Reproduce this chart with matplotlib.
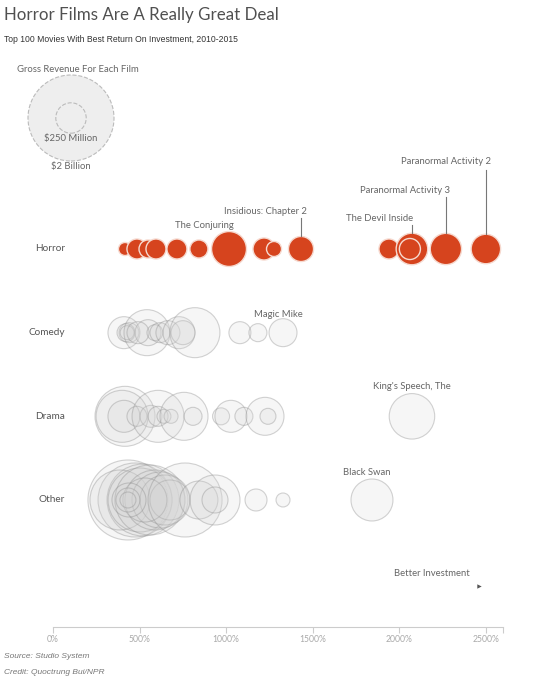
import matplotlib.pyplot as plt
import numpy as np

# return on investment (%) and worldwide gross ($ millions) per film
horror_roi = [416, 485, 549, 595, 716, 843, 1017, 1219, 1277, 1433, 1941, 2074, 2062, 2270, 2501]
horror_gross = [46, 108, 88, 108, 108, 88, 330, 131, 61, 170, 108, 270, 120, 265, 235]

comedy_roi = [410, 439, 422, 428, 543, 549, 491, 589, 618, 664, 728, 751, 820, 1080, 1184, 1329]
comedy_gross = [277, 108, 88, 53, 572, 183, 131, 69, 108, 156, 277, 156, 676, 131, 88, 212]

drama_roi = [416, 399, 410, 485, 566, 607, 607, 641, 682, 757, 809, 971, 1028, 1103, 1225, 1242, 2074]
drama_gross = [973, 731, 277, 108, 131, 731, 108, 53, 53, 623, 88, 78, 277, 88, 390, 69, 560]

other_roi = [433, 474, 520, 387, 503, 560, 589, 618, 647, 676, 531, 439, 433, 433,
             763, 843, 936, 936, 1173, 1329, 1843]
other_gross = [1731, 1481, 1402, 973, 1108, 1325, 973, 848, 676, 433, 524, 313, 156, 69,
               1481, 390, 676, 183, 131, 53, 477]

categories = ["Horror", "Comedy", "Drama", "Other"]
xticks = [0, 500, 1000, 1500, 2000, 2500]

DPI = 100
PX_PER_ROW = 83.67


def radius_px(gross):
    return 43 * np.sqrt(np.asarray(gross, dtype=float) / 2000)


def marker_size(gross):
    return (2 * radius_px(gross) * 72 / DPI) ** 2


fig = plt.figure(figsize=(5.51, 6.8), dpi=DPI)
ax = fig.add_axes([53 / 551, 1 - 627 / 680, 450 / 551, 627 / 680])
ax.set_xlim(0, 2600)
ax.set_ylim(-1.518, 5.976)

rows = {"Horror": 3, "Comedy": 2, "Drama": 1, "Other": 0}
grey = [("Comedy", comedy_roi, comedy_gross),
        ("Drama", drama_roi, drama_gross),
        ("Other", other_roi, other_gross)]

for cat, roi, gross in grey:
    ax.scatter(roi, [rows[cat]] * len(roi), s=marker_size(gross),
               facecolor=(0.84, 0.84, 0.84, 0.22), edgecolor=(0.55, 0.55, 0.55, 0.38),
               linewidth=0.8, zorder=2)

ax.scatter(horror_roi, [rows["Horror"]] * len(horror_roi), s=marker_size(horror_gross),
           facecolor="#d6441e", edgecolor="#f6d9cf", linewidth=1.0, zorder=3)

label_font = dict(family="Lato", color="#666666", fontsize=6.8)

for cat in categories:
    ax.text(0.027, rows[cat], cat, transform=ax.get_yaxis_transform(),
            ha="right", va="center", family="Lato", fontsize=7.2, color="#555555")


def label(roi, row, gross, text, dx_px, dy_px, ha, line_from_px=None):
    # text offset in pixels relative to the bubble centre
    ax.annotate(text, xy=(roi, row), xytext=(dx_px * 0.72, dy_px * 0.72),
                textcoords="offset points", ha=ha, va="center", **label_font)
    if line_from_px is not None:
        top = row + radius_px(gross) / PX_PER_ROW
        ax.plot([roi, roi], [top, row + line_from_px / PX_PER_ROW],
                color="#777777", lw=0.8, zorder=4)


label(1017, 3, 330, "The Conjuring", -25, 23, "center")
label(1433, 3, 170, "Insidious: Chapter 2", 6, 37, "right", 31)
label(2074, 3, 270, "The Devil Inside", 1, 30, "right", 24)
label(2270, 3, 265, "Paranormal Activity 3", 4, 58, "right", 52)
label(2501, 3, 235, "Paranormal Activity 2", 5, 87, "right", 79)
label(1329, 2, 212, "Magic Mike", -5, 18, "center")
label(2074, 1, 560, "King's Speech, The", 0, 30, "center")
label(1843, 0, 477, "Black Swan", -5, 27, "center")

ax.text(2190, (500 - 574) / PX_PER_ROW, "Better Investment", ha="center", va="center",
        **label_font)
ax.scatter([2460], [(500 - 586) / PX_PER_ROW], marker=">", s=10, color="#555555",
           linewidth=0)

# axis styling
for side in ["top", "right", "left"]:
    ax.spines[side].set_visible(False)
ax.spines["bottom"].set_color("#cccccc")
ax.spines["bottom"].set_linewidth(0.8)
ax.set_yticks([])
ax.set_xticks(xticks)
ax.set_xticks([2600], minor=True)
ax.set_xticklabels([f"{t}%" for t in xticks])
ax.tick_params(axis="x", which="both", length=4, width=0.8, color="#cccccc",
               labelsize=6.2, labelcolor="#aaaaaa", pad=2)
for t in ax.get_xticklabels():
    t.set_family("Lato")

# size key
key_xy = (71 / 551, 1 - 118 / 680)
for g in [2000, 250]:
    ax.scatter([key_xy[0]], [key_xy[1]], s=marker_size(g), transform=fig.transFigure,
               facecolor="#eeeeee", edgecolor="#bbbbbb", linewidth=0.8,
               linestyle="--", clip_on=False, zorder=1)
fig.text(78 / 551, 1 - 70 / 680, "Gross Revenue For Each Film", ha="center", va="center",
         **label_font)
fig.text(71 / 551, 1 - 139 / 680, "$250 Million", ha="center", va="center", **label_font)
fig.text(71 / 551, 1 - 167 / 680, "$2 Billion", ha="center", va="center", **label_font)

fig.text(4 / 551, 1 - 15 / 680, "Horror Films Are A Really Great Deal", va="center",
         family="Lato", fontsize=12.2, color="#505050")
fig.text(4 / 551, 1 - 40 / 680, "Top 100 Movies With Best Return On Investment, 2010-2015",
         va="center", family="Liberation Sans", fontsize=6.2, color="#333333")
fig.text(4 / 551, 1 - 657 / 680, "Source: Studio System", va="center",
         family="Liberation Sans", style="italic", fontsize=6, color="#777777")
fig.text(4 / 551, 1 - 673 / 680, "Credit: Quoctrung Bui/NPR", va="center",
         family="Liberation Sans", style="italic", fontsize=6, color="#777777")

fig.savefig("out.png", dpi=DPI)
